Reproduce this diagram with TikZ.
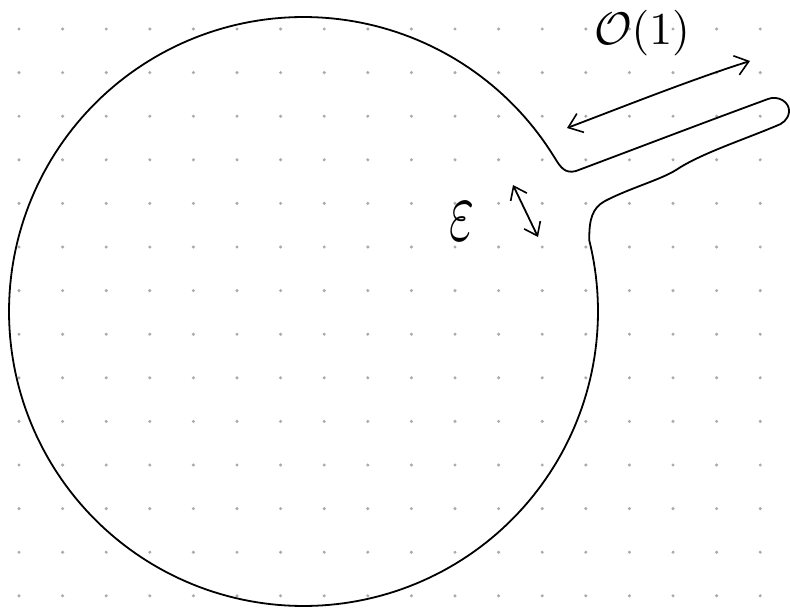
\documentclass[tikz,border=0pt]{standalone}
\usepackage{graphicx}
\usetikzlibrary{arrows.meta}
\definecolor{dotgray}{HTML}{ABABAB}
\tikzset{
  ink/.style={line width=1.8pt, black, line cap=round, line join=round},
  barb/.style={ink, {Straight Barb[length=13pt,width=20pt,line width=1.6pt]}-{Straight Barb[length=13pt,width=20pt,line width=1.6pt]}},
  smallbarb/.style={ink, {Straight Barb[length=12pt,width=18pt,line width=1.6pt]}-{Straight Barb[length=12pt,width=18pt,line width=1.6pt]}},
  lbl/.style={inner sep=0pt, black}
}
\begin{document}
\begin{tikzpicture}[x=1pt,y=-1pt]
\useasboundingbox (0,0) rectangle (790,610);
\fill[white] (0,0) rectangle (790,610);
% dotted grid
\foreach \i in {0,...,17}{
  \foreach \j in {0,...,13}{
    \fill[dotgray] ({19+43.6*\i},{29+43.6*\j}) circle (1.7);
  }
}
% circle with channel
\coordinate (up) at (554.6,157.6);
\coordinate (lo) at (589.3,240.3);
\draw[ink] (up) .. controls (560.5,167.3) and (565,174) .. (576,171)
  .. controls (640,147) and (700,124) .. (768,99)
  .. controls (778,95) and (790,102) .. (789,112)
  .. controls (788,120) and (782,124) .. (776,126)
  .. controls (740,141) and (700,154) .. (676,170)
  .. controls (660,180) and (630,188) .. (605,201)
  .. controls (592,208) and (589,220) .. (lo)
  -- plot[domain=-14:328.5, samples=240] ({303.5+294.5*cos(\x)},{311.5+294.5*sin(\x)});
% O(1) arrow
\coordinate (oa) at (567,128);
\coordinate (ob) at (750,61);
\draw[barb] (oa) .. controls (620,108) and (690,80) .. (ob);
\node[lbl] (olab) at (642,33) {\resizebox{96pt}{!}{$\mathcal{O}(1)$}};
% epsilon arrow
\coordinate (ea) at (513,185);
\coordinate (eb) at (538,237);
\draw[smallbarb] (ea) -- (eb);
\node[lbl] (elab) at (462,221) {\resizebox{25pt}{38pt}{$\varepsilon$}};
\end{tikzpicture}
\end{document}
